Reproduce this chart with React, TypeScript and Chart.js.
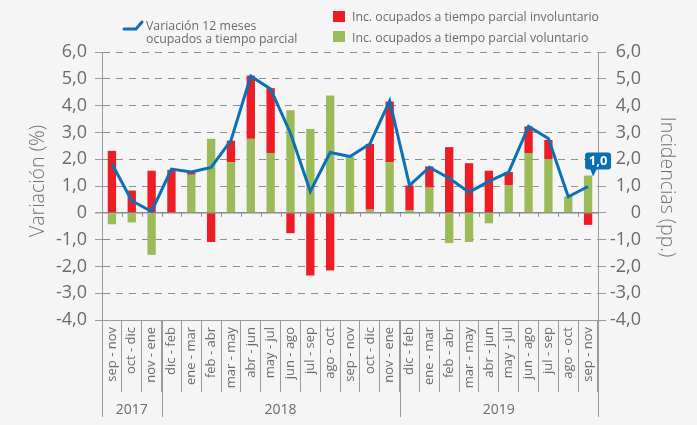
import React, { useEffect, useRef } from 'react';
import { Chart, registerables } from 'chart.js';

Chart.register(...registerables);

const categories = [
  'sep - nov', 'oct - dic', 'nov - ene',
  'dic - feb', 'ene - mar', 'feb - abr', 'mar - may', 'abr - jun', 'may - jul',
  'jun - ago', 'jul - sep', 'ago - oct', 'sep - nov', 'oct - dic', 'nov - ene',
  'dic - feb', 'ene - mar', 'feb - abr', 'mar - may', 'abr - jun', 'may - jul',
  'jun - ago', 'jul - sep', 'ago - oct', 'sep - nov',
];
const yearLabels = ['2017', '2018', '2019'];
const yearSpans = [3, 12, 10];

const variacion = [1.83, 0.45, 0.05, 1.63, 1.52, 1.69, 2.7, 5.1, 4.62, 2.97, 0.8, 2.25, 2.1, 2.57, 4.18, 1.02, 1.7, 1.29, 0.77, 1.17, 1.52, 3.22, 2.77, 0.6, 0.98];
const involuntario = [2.31, 0.83, 1.57, 1.6, 0.08, -1.09, 0.8, 2.36, 2.42, -0.76, -2.34, -2.15, -0.03, 2.45, 2.26, 0.92, 0.79, 2.45, 1.85, 1.57, 0.5, 0.99, 0.72, 0, -0.45];
const voluntario = [-0.43, -0.36, -1.57, 0, 1.42, 2.76, 1.89, 2.76, 2.23, 3.83, 3.13, 4.38, 2.1, 0.12, 1.89, 0.1, 0.94, -1.13, -1.09, -0.39, 1.02, 2.23, 2.0, 0.61, 1.39];

const yMin = -4;
const yMax = 6;

const legendLine = ['Variación 12 meses', 'ocupados a tiempo parcial'];
const legendRed = 'Inc. ocupados a tiempo parcial involuntario';
const legendGreen = 'Inc. ocupados a tiempo parcial voluntario';
const titleLeft = 'Variación (%)';
const titleRight = 'Incidencias (pp.)';

const BG = '#f5f5f5';
const TEXT = '#6b6b6b';
const GRID = '#8e8e8e';
const AXIS = '#9a9a9a';
const BLUE = '#0b70b8';
const CALLOUT = '#0b6db3';
const RED = '#ee1c25';
const GREEN = '#9bbb59';
const FONT = "'Open Sans', sans-serif";

const fmt = (v: number) => (v === 0 ? '0' : v.toFixed(1).replace('.', ','));

const decorPlugin = {
  id: 'decor',
  beforeDraw(chart: any) {
    const { ctx, width, height } = chart;
    ctx.save();
    ctx.fillStyle = BG;
    ctx.fillRect(0, 0, width, height);
    ctx.restore();
  },
  afterDraw(chart: any) {
    const { ctx, chartArea: ca, scales } = chart;
    const xs = scales.x;
    const ys = scales.y;
    const n = categories.length;
    const step = xs.getPixelForValue(1) - xs.getPixelForValue(0);
    const boundary = (i: number) => xs.getPixelForValue(i) - step / 2;
    ctx.save();

    // small ticks under the zero line
    const y0 = ys.getPixelForValue(0);
    ctx.strokeStyle = GRID;
    ctx.lineWidth = 1;
    for (let i = 1; i < n; i++) {
      const bx = Math.round(boundary(i)) + 0.5;
      ctx.beginPath();
      ctx.moveTo(bx, y0);
      ctx.lineTo(bx, y0 + 4);
      ctx.stroke();
    }

    // year separators and labels
    ctx.strokeStyle = AXIS;
    let start = 0;
    const bounds = [0];
    yearSpans.forEach((s) => { start += s; bounds.push(start); });
    bounds.forEach((b) => {
      const bx = Math.round(boundary(b)) + 0.5;
      ctx.beginPath();
      ctx.moveTo(bx, ca.bottom);
      ctx.lineTo(bx, ca.bottom + 97);
      ctx.stroke();
    });
    ctx.fillStyle = TEXT;
    ctx.font = `14px ${FONT}`;
    ctx.textAlign = 'center';
    ctx.textBaseline = 'middle';
    yearLabels.forEach((lab, i) => {
      const cx = (boundary(bounds[i]) + boundary(bounds[i + 1])) / 2;
      ctx.fillText(lab, cx, ca.bottom + 90);
    });

    // axis titles
    ctx.font = `300 19.5px ${FONT}`;
    ctx.fillStyle = '#737373';
    ctx.save();
    ctx.translate(38, 181);
    ctx.rotate(-Math.PI / 2);
    ctx.fillText(titleLeft, 0, 0);
    ctx.restore();
    ctx.save();
    ctx.translate(667, 187);
    ctx.rotate(Math.PI / 2);
    ctx.fillText(titleRight, 0, 0);
    ctx.restore();

    // legend
    ctx.strokeStyle = BLUE;
    ctx.lineWidth = 3;
    ctx.lineCap = 'round';
    ctx.beginPath();
    ctx.moveTo(124, 29);
    ctx.lineTo(136, 29);
    ctx.lineTo(142, 22);
    ctx.stroke();
    ctx.fillStyle = TEXT;
    ctx.font = `12.3px ${FONT}`;
    ctx.textAlign = 'left';
    ctx.textBaseline = 'alphabetic';
    ctx.fillText(legendLine[0], 146, 30);
    ctx.fillText(legendLine[1], 146, 43);
    ctx.fillStyle = RED;
    ctx.fillRect(333, 11, 12, 11);
    ctx.fillStyle = GREEN;
    ctx.fillRect(333, 31, 12, 11);
    ctx.fillStyle = TEXT;
    ctx.fillText(legendRed, 352, 21);
    ctx.fillText(legendGreen, 352, 42);

    // callout on last line point
    const meta = chart.getDatasetMeta(2);
    const last = meta.data[meta.data.length - 1];
    const px = last.x;
    const py = last.y;
    const bx = px - 3;
    const bw = 26;
    const by = py - 34;
    const bh = 17;
    ctx.fillStyle = CALLOUT;
    ctx.beginPath();
    ctx.roundRect(bx, by, bw, bh, 3);
    ctx.fill();
    ctx.beginPath();
    ctx.moveTo(px + 2, by + bh - 1);
    ctx.lineTo(px + 9, by + bh - 1);
    ctx.lineTo(px + 5, py - 10);
    ctx.closePath();
    ctx.fill();
    ctx.fillStyle = '#ffffff';
    ctx.font = `bold 13px ${FONT}`;
    ctx.textAlign = 'center';
    ctx.textBaseline = 'middle';
    ctx.fillText(fmt(variacion[variacion.length - 1]), bx + bw / 2, by + bh / 2 + 0.5);

    ctx.restore();
  },
};

export default function App() {
  const ref = useRef<HTMLCanvasElement>(null);
  useEffect(() => {
    document.body.style.margin = '0';
    document.body.style.background = BG;
    Chart.defaults.font.family = FONT;
    const canvas = ref.current as HTMLCanvasElement;
    const tickCb = (v: any) => fmt(Number(v));
    const chart = new Chart(canvas, {
      type: 'bar',
      data: {
        labels: categories,
        datasets: [
          {
            type: 'bar',
            label: legendGreen,
            data: voluntario,
            backgroundColor: GREEN,
            yAxisID: 'y2',
            stack: 's',
            order: 1,
            barPercentage: 0.42,
            categoryPercentage: 1,
          },
          {
            type: 'bar',
            label: legendRed,
            data: involuntario,
            backgroundColor: RED,
            yAxisID: 'y2',
            stack: 's',
            order: 1,
            barPercentage: 0.42,
            categoryPercentage: 1,
          },
          {
            type: 'line',
            label: legendLine.join(' '),
            data: variacion,
            borderColor: BLUE,
            borderWidth: 3,
            pointRadius: 0,
            tension: 0,
            fill: false,
            yAxisID: 'y',
            order: 0,
          },
        ] as any,
      },
      options: {
        responsive: false,
        animation: false,
        layout: { padding: { top: 52, right: 56, left: 0, bottom: 0 } },
        plugins: {
          legend: { display: false },
          tooltip: { enabled: false },
        },
        scales: {
          x: {
            stacked: true,
            offset: true,
            grid: { offset: true, drawOnChartArea: false, drawTicks: true, tickLength: 72, color: AXIS },
            border: { display: true, color: AXIS },
            ticks: {
              autoSkip: false,
              minRotation: 90,
              maxRotation: 90,
              padding: -65,
              color: TEXT,
              font: { size: 13 },
            },
            afterFit: (s: any) => { s.height = 105; },
          },
          y: {
            position: 'left',
            min: yMin,
            max: yMax,
            ticks: { stepSize: 1, callback: tickCb, padding: 8, color: TEXT, font: { size: 18 } },
            grid: {
              color: (c: any) => (c.tick && c.tick.value === 0 ? '#8a8a8a' : GRID),
              lineWidth: (c: any) => (c.tick && c.tick.value === 0 ? 1.5 : 1),
              tickLength: 7,
              tickColor: AXIS,
              drawTicks: true,
            },
            border: {
              display: true,
              color: AXIS,
              dash: (c: any) => (c.tick && c.tick.value === 0 ? [] : [7, 6]),
            },
            afterFit: (s: any) => { s.width = 102; },
          },
          y2: {
            position: 'right',
            stacked: true,
            min: yMin,
            max: yMax,
            ticks: { stepSize: 1, callback: tickCb, crossAlign: 'far', color: TEXT, font: { size: 18 } },
            grid: { drawOnChartArea: false, tickLength: 8, color: AXIS },
            border: { display: true, color: AXIS },
            afterFit: (s: any) => { s.width = 43; },
          },
        },
      } as any,
      plugins: [decorPlugin],
    });
    return () => chart.destroy();
  }, []);
  return <canvas ref={ref} width={697} height={425} style={{ display: 'block' }} />;
}
